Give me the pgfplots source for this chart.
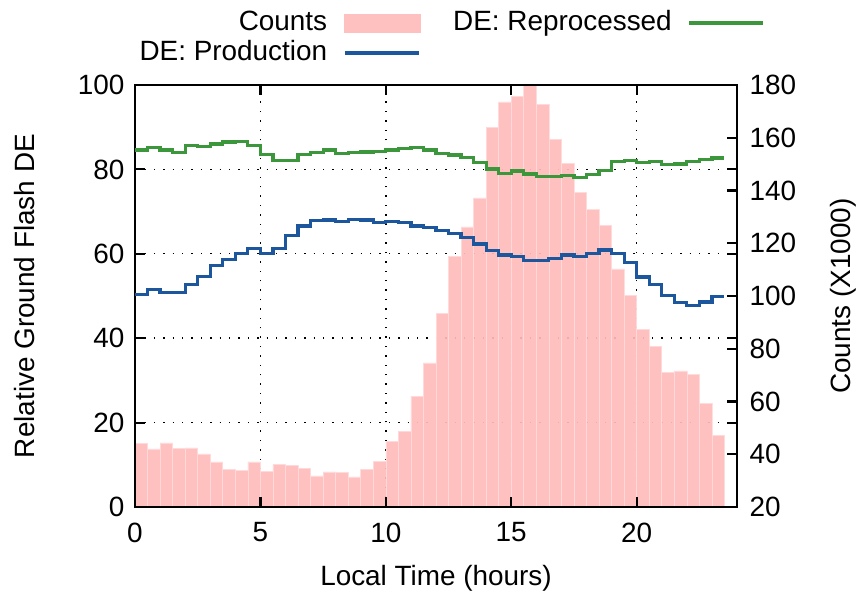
\documentclass[border=0pt]{standalone}
\usepackage{pgfplots}
\pgfplotsset{compat=1.18}
\usepackage{fontspec}
\setmainfont{Liberation Sans}
\definecolor{barpink}{RGB}{255,192,192}
\definecolor{barfill}{RGB}{255,187,187}
\definecolor{linegreen}{RGB}{60,150,60}
\definecolor{lineblue}{RGB}{28,86,156}
\pgfplotsset{
  base/.style={
    scale only axis, width=301bp, height=211bp,
    at={(0,0)}, anchor=south west,
    xmin=0, xmax=24,
    font=\fontsize{14}{16.8}\selectfont,
    /pgf/number format/assume math mode=true,
    tick align=inside,
    major tick length=5bp,
    every tick/.style={black, line width=1.1bp},
  },
}
\pgfplotstableread{
x c
0 44.1
0.5 42.0
1 44.3
1.5 42.2
2 42.4
2.5 40.1
3 37.1
3.5 34.3
4 33.8
4.5 37.1
5 33.5
5.5 36.2
6 35.9
6.5 34.7
7 31.8
7.5 33.3
8 33.0
8.5 31.4
9 34.4
9.5 37.2
10 44.9
10.5 48.8
11 61.9
11.5 74.6
12 93.4
12.5 115.1
13 126.2
13.5 137.2
14 163.9
14.5 173.6
15 175.8
15.5 180
16 172.7
16.5 159.5
17 150.3
17.5 139.2
18 132.7
18.5 126.8
19 110.3
19.5 100.2
20 87.3
20.5 81.0
21 71.0
21.5 71.6
22 70.2
22.5 59.2
23 47.2
23.5 47.2
}\counts
\pgfplotstableread{
x g b
0 84.6 50.4
0.5 85.1 51.5
1 84.6 50.8
1.5 84.0 50.8
2 85.6 52.8
2.5 85.4 54.7
3 86.0 57.3
3.5 86.5 58.7
4 86.6 60.1
4.5 85.7 61.3
5 83.6 60.1
5.5 82.1 61.3
6 82.1 64.4
6.5 83.6 66.6
7 84.0 67.8
7.5 84.6 68.0
8 83.8 67.7
8.5 84.0 68.2
9 84.1 68.0
9.5 84.2 67.4
10 84.6 67.7
10.5 84.9 67.4
11 85.1 66.6
11.5 84.6 66.2
12 83.8 65.5
12.5 83.4 64.8
13 82.8 63.8
13.5 81.6 62.3
14 80.1 60.7
14.5 79.1 59.7
15 79.6 59.3
15.5 78.9 58.5
16 78.4 58.5
16.5 78.4 58.9
17 78.5 59.7
17.5 78.0 59.4
18 78.7 60.1
18.5 79.8 60.9
19 81.8 60.1
19.5 82.2 57.9
20 81.6 54.5
20.5 81.8 52.8
21 81.2 50.1
21.5 81.3 48.5
22 81.8 47.7
22.5 82.4 48.6
23 82.7 49.8
23.5 82.7 49.8
}\de
\begin{document}
\begin{tikzpicture}
\path[use as bounding box] (-67.5bp,-44bp) rectangle (362.5bp,253.5bp);
% grid
\begin{axis}[base, ymin=0, ymax=100, xtick={0,5,10,15,20}, ytick={0,20,...,100},
  xticklabels={}, yticklabels={}, grid=major,
  major grid style={black, line width=0.7bp, dash pattern=on 0.7bp off 4bp},
  axis line style={draw=none}, major tick length=0pt]
\addplot[draw=none] coordinates {(0,0)};
\end{axis}
% bars, right axis
\begin{axis}[base, ymin=20, ymax=180, axis x line=none, axis y line*=right,
  ytick={20,40,...,180}, yticklabel shift=2.8bp,
  axis line style={line width=1.3bp},
  ylabel={Counts (X1000)},
  ylabel style={at={(axis description cs:1.176,0.5)}, anchor=center, rotate=0}]
\addplot[ybar interval, fill=barfill, fill opacity=0.92, draw=barpink!55!white, draw opacity=0.9, line width=0.3bp] table[x=x, y=c] {\counts};
\end{axis}
% lines, left axis
\begin{axis}[base, ymin=0, ymax=100, xtick={0,5,10,15,20}, ytick={0,20,...,100},
  xtick pos=both, ytick pos=both, xticklabel pos=lower, yticklabel pos=left,
  axis line style={line width=1.3bp},
  xlabel={Local Time (hours)}, ylabel={Relative Ground Flash DE},
  xlabel style={at={(axis description cs:0.5,-0.168)}, anchor=center},
  ylabel style={at={(axis description cs:-0.1827,0.5)}, anchor=center},
  xticklabel shift=4.3bp, yticklabel shift=1.8bp,
  legend columns=2, legend plot pos=right, legend cell align=right,
  legend style={draw=none, fill=none, inner sep=0pt, outer sep=0pt,
    at={(axis description cs:1.0465,1.1777)}, anchor=north east, row sep=2bp,
    nodes={inner sep=0pt, text height=10bp, text depth=3bp},
    /tikz/column 1/.style={column sep=8bp},
    /tikz/column 2/.style={column sep=16bp},
    /tikz/column 3/.style={column sep=8bp}}]
\addlegendimage{legend image code/.code={\fill[barpink] (0bp,-4.5bp) rectangle (38bp,4.5bp);}}
\addlegendentry{Counts}
\addplot[const plot, linegreen, line width=1.6bp,
  legend image code/.code={\draw (0bp,0bp) -- (37bp,0bp);}] table[x=x, y=g] {\de};
\addlegendentry{DE: Reprocessed}
\addplot[const plot, lineblue, line width=1.6bp,
  legend image code/.code={\draw (0bp,0bp) -- (37bp,0bp);}] table[x=x, y=b] {\de};
\addlegendentry{DE: Production}
\end{axis}
\end{tikzpicture}
\end{document}
